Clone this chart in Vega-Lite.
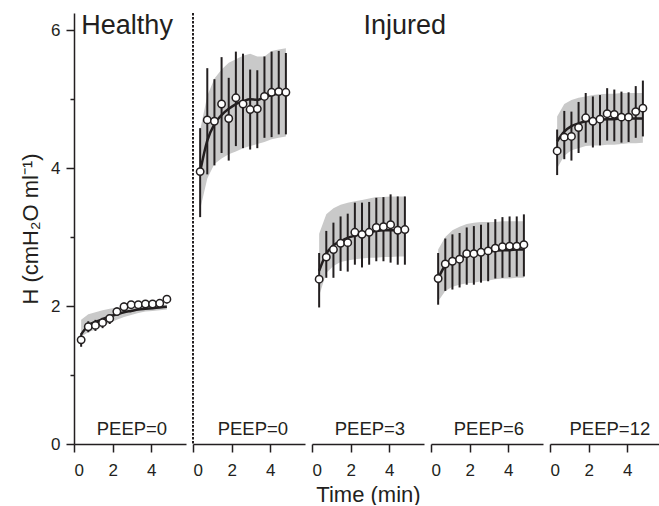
{
  "$schema": "https://vega.github.io/schema/vega-lite/v6.json",
  "padding": {"left": 19, "top": 12, "right": 0, "bottom": 0},
  "bounds": "flush",
  "config": {
    "view": {"stroke": null},
    "font": "Liberation Sans",
    "axis": {"grid": false, "domainColor": "#231f20", "tickColor": "#231f20", "labelColor": "#231f20", "titleColor": "#231f20", "labelFont": "Liberation Sans", "titleFont": "Liberation Sans", "labelFontSize": 17, "titleFontSize": 22, "titleFontWeight": "normal", "domainWidth": 1.5, "tickWidth": 1.5, "format": "d"}
  },
  "datasets": {
    "h": [
      {"p":1,"t":0.37,"m":1.51,"lo":1.41,"hi":1.60,"f":1.59,"bl":1.56,"bh":1.80},
      {"p":1,"t":0.74,"m":1.70,"lo":1.62,"hi":1.78,"f":1.72,"bl":1.62,"bh":1.88},
      {"p":1,"t":1.11,"m":1.72,"lo":1.64,"hi":1.80,"f":1.77,"bl":1.66,"bh":1.91},
      {"p":1,"t":1.48,"m":1.76,"lo":1.68,"hi":1.83,"f":1.81,"bl":1.71,"bh":1.94},
      {"p":1,"t":1.85,"m":1.82,"lo":1.74,"hi":1.88,"f":1.85,"bl":1.76,"bh":1.96},
      {"p":1,"t":2.22,"m":1.92,"lo":1.86,"hi":1.98,"f":1.88,"bl":1.80,"bh":1.98},
      {"p":1,"t":2.59,"m":1.99,"lo":1.93,"hi":2.05,"f":1.91,"bl":1.84,"bh":1.99},
      {"p":1,"t":2.96,"m":2.02,"lo":1.96,"hi":2.07,"f":1.93,"bl":1.87,"bh":2.00},
      {"p":1,"t":3.33,"m":2.02,"lo":1.96,"hi":2.07,"f":1.95,"bl":1.90,"bh":2.01},
      {"p":1,"t":3.70,"m":2.03,"lo":1.97,"hi":2.08,"f":1.96,"bl":1.92,"bh":2.01},
      {"p":1,"t":4.07,"m":2.03,"lo":1.97,"hi":2.08,"f":1.97,"bl":1.93,"bh":2.02},
      {"p":1,"t":4.44,"m":2.04,"lo":1.98,"hi":2.09,"f":1.98,"bl":1.94,"bh":2.02},
      {"p":1,"t":4.81,"m":2.10,"lo":2.04,"hi":2.15,"f":1.99,"bl":1.95,"bh":2.02},
      {"p":2,"t":0.37,"m":3.95,"lo":3.29,"hi":4.58,"f":3.95,"bl":3.40,"bh":4.55},
      {"p":2,"t":0.74,"m":4.70,"lo":3.91,"hi":5.45,"f":4.40,"bl":3.85,"bh":5.05},
      {"p":2,"t":1.11,"m":4.68,"lo":4.04,"hi":5.29,"f":4.64,"bl":4.06,"bh":5.30},
      {"p":2,"t":1.48,"m":4.93,"lo":4.22,"hi":5.61,"f":4.77,"bl":4.14,"bh":5.43},
      {"p":2,"t":1.85,"m":4.72,"lo":4.11,"hi":5.31,"f":4.86,"bl":4.20,"bh":5.53},
      {"p":2,"t":2.22,"m":5.02,"lo":4.32,"hi":5.69,"f":4.93,"bl":4.24,"bh":5.58},
      {"p":2,"t":2.59,"m":4.93,"lo":4.29,"hi":5.66,"f":4.97,"bl":4.29,"bh":5.63},
      {"p":2,"t":2.96,"m":4.85,"lo":4.27,"hi":5.43,"f":5.00,"bl":4.32,"bh":5.66},
      {"p":2,"t":3.33,"m":4.86,"lo":4.29,"hi":5.42,"f":4.99,"bl":4.35,"bh":5.62},
      {"p":2,"t":3.70,"m":5.04,"lo":4.44,"hi":5.62,"f":5.03,"bl":4.38,"bh":5.62},
      {"p":2,"t":4.07,"m":5.10,"lo":4.45,"hi":5.69,"f":5.06,"bl":4.42,"bh":5.70},
      {"p":2,"t":4.44,"m":5.11,"lo":4.49,"hi":5.70,"f":5.08,"bl":4.44,"bh":5.72},
      {"p":2,"t":4.81,"m":5.10,"lo":4.49,"hi":5.67,"f":5.09,"bl":4.46,"bh":5.74},
      {"p":3,"t":0.37,"m":2.39,"lo":1.98,"hi":2.77,"f":2.51,"bl":2.15,"bh":3.05},
      {"p":3,"t":0.74,"m":2.71,"lo":2.41,"hi":3.09,"f":2.76,"bl":2.48,"bh":3.33},
      {"p":3,"t":1.11,"m":2.82,"lo":2.41,"hi":3.21,"f":2.88,"bl":2.58,"bh":3.42},
      {"p":3,"t":1.48,"m":2.91,"lo":2.51,"hi":3.30,"f":2.94,"bl":2.64,"bh":3.47},
      {"p":3,"t":1.85,"m":2.92,"lo":2.50,"hi":3.34,"f":2.99,"bl":2.66,"bh":3.50},
      {"p":3,"t":2.22,"m":3.07,"lo":2.60,"hi":3.50,"f":3.02,"bl":2.68,"bh":3.52},
      {"p":3,"t":2.59,"m":3.04,"lo":2.56,"hi":3.50,"f":3.05,"bl":2.69,"bh":3.54},
      {"p":3,"t":2.96,"m":3.07,"lo":2.60,"hi":3.51,"f":3.07,"bl":2.70,"bh":3.56},
      {"p":3,"t":3.33,"m":3.14,"lo":2.65,"hi":3.57,"f":3.09,"bl":2.70,"bh":3.58},
      {"p":3,"t":3.70,"m":3.15,"lo":2.65,"hi":3.58,"f":3.10,"bl":2.71,"bh":3.58},
      {"p":3,"t":4.07,"m":3.18,"lo":2.63,"hi":3.62,"f":3.10,"bl":2.71,"bh":3.59},
      {"p":3,"t":4.44,"m":3.10,"lo":2.60,"hi":3.59,"f":3.10,"bl":2.72,"bh":3.59},
      {"p":3,"t":4.81,"m":3.11,"lo":2.60,"hi":3.59,"f":3.10,"bl":2.72,"bh":3.59},
      {"p":4,"t":0.37,"m":2.40,"lo":2.02,"hi":2.77,"f":2.40,"bl":2.07,"bh":2.82},
      {"p":4,"t":0.74,"m":2.61,"lo":2.22,"hi":2.98,"f":2.59,"bl":2.22,"bh":3.00},
      {"p":4,"t":1.11,"m":2.65,"lo":2.24,"hi":3.04,"f":2.66,"bl":2.28,"bh":3.10},
      {"p":4,"t":1.48,"m":2.68,"lo":2.27,"hi":3.06,"f":2.70,"bl":2.31,"bh":3.15},
      {"p":4,"t":1.85,"m":2.76,"lo":2.31,"hi":3.14,"f":2.73,"bl":2.33,"bh":3.19},
      {"p":4,"t":2.22,"m":2.76,"lo":2.31,"hi":3.16,"f":2.75,"bl":2.34,"bh":3.21},
      {"p":4,"t":2.59,"m":2.78,"lo":2.34,"hi":3.18,"f":2.77,"bl":2.36,"bh":3.22},
      {"p":4,"t":2.96,"m":2.80,"lo":2.36,"hi":3.21,"f":2.79,"bl":2.37,"bh":3.22},
      {"p":4,"t":3.33,"m":2.84,"lo":2.40,"hi":3.26,"f":2.80,"bl":2.39,"bh":3.22},
      {"p":4,"t":3.70,"m":2.86,"lo":2.41,"hi":3.29,"f":2.81,"bl":2.40,"bh":3.23},
      {"p":4,"t":4.07,"m":2.87,"lo":2.42,"hi":3.30,"f":2.81,"bl":2.40,"bh":3.23},
      {"p":4,"t":4.44,"m":2.87,"lo":2.43,"hi":3.30,"f":2.82,"bl":2.41,"bh":3.23},
      {"p":4,"t":4.81,"m":2.89,"lo":2.43,"hi":3.33,"f":2.82,"bl":2.41,"bh":3.23},
      {"p":5,"t":0.37,"m":4.25,"lo":3.90,"hi":4.56,"f":4.39,"bl":4.00,"bh":4.75},
      {"p":5,"t":0.74,"m":4.45,"lo":4.13,"hi":4.83,"f":4.53,"bl":4.18,"bh":4.93},
      {"p":5,"t":1.11,"m":4.46,"lo":4.11,"hi":4.82,"f":4.61,"bl":4.26,"bh":4.99},
      {"p":5,"t":1.48,"m":4.59,"lo":4.22,"hi":4.96,"f":4.65,"bl":4.29,"bh":5.02},
      {"p":5,"t":1.85,"m":4.73,"lo":4.37,"hi":5.09,"f":4.68,"bl":4.32,"bh":5.04},
      {"p":5,"t":2.22,"m":4.68,"lo":4.30,"hi":5.04,"f":4.69,"bl":4.33,"bh":5.06},
      {"p":5,"t":2.59,"m":4.71,"lo":4.33,"hi":5.06,"f":4.70,"bl":4.33,"bh":5.07},
      {"p":5,"t":2.96,"m":4.79,"lo":4.40,"hi":5.16,"f":4.71,"bl":4.34,"bh":5.08},
      {"p":5,"t":3.33,"m":4.78,"lo":4.39,"hi":5.14,"f":4.71,"bl":4.34,"bh":5.08},
      {"p":5,"t":3.70,"m":4.74,"lo":4.37,"hi":5.11,"f":4.72,"bl":4.35,"bh":5.09},
      {"p":5,"t":4.07,"m":4.74,"lo":4.38,"hi":5.10,"f":4.72,"bl":4.36,"bh":5.09},
      {"p":5,"t":4.44,"m":4.82,"lo":4.44,"hi":5.19,"f":4.72,"bl":4.36,"bh":5.09},
      {"p":5,"t":4.81,"m":4.87,"lo":4.46,"hi":5.27,"f":4.72,"bl":4.37,"bh":5.09}
    ]
  },
  "spacing": 7,
  "hconcat": [
    {
      "width": 112, "height": 431,
      "layer": [
        {
          "data": {"name": "h"}, "transform": [{"filter": "datum.p == 1"}],
          "mark": {"type": "area", "color": "#c9c9c9"},
          "encoding": {
            "x": {"field": "t", "type": "quantitative", "scale": {"domain": [0, 5.8], "nice": false}, "axis": {"values": [0,1,2,3,4,5], "labelExpr": "datum.value % 2 == 0 ? datum.label : ''", "tickSize": {"condition": {"test": "datum.value % 2 == 1", "value": 4}, "value": 8}, "labelPadding": 10, "title": null}},
            "y": {"field": "bl", "type": "quantitative", "scale": {"domain": [0, 6.25], "nice": false}, "axis": {"values": [0,1,2,3,4,5,6], "labelExpr": "datum.value % 2 == 0 ? datum.label : ''", "tickSize": {"condition": {"test": "datum.value % 2 == 1", "value": 4}, "value": 8}, "labelPadding": 6, "title": "H (cmH₂O ml⁻¹)", "titlePadding": 8}},
            "y2": {"field": "bh"}
          }
        },
        {
          "data": {"name": "h"}, "transform": [{"filter": "datum.p == 1"}],
          "mark": {"type": "rule", "color": "#231f20", "strokeWidth": 2},
          "encoding": {"x": {"field": "t", "type": "quantitative"}, "y": {"field": "lo", "type": "quantitative"}, "y2": {"field": "hi"}}
        },
        {
          "data": {"name": "h"}, "transform": [{"filter": "datum.p == 1"}],
          "mark": {"type": "line", "color": "#231f20", "strokeWidth": 2.5, "interpolate": "monotone"},
          "encoding": {"x": {"field": "t", "type": "quantitative"}, "y": {"field": "f", "type": "quantitative"}}
        },
        {
          "data": {"name": "h"}, "transform": [{"filter": "datum.p == 1"}],
          "mark": {"type": "point", "shape": "circle", "filled": true, "fill": "white", "stroke": "#231f20", "strokeWidth": 1.5, "size": 55, "opacity": 1},
          "encoding": {"x": {"field": "t", "type": "quantitative"}, "y": {"field": "m", "type": "quantitative"}}
        },
        {
          "data": {"values": [{"label": "PEEP=0"}]},
          "mark": {"type": "text", "fontSize": 18.5, "color": "#231f20", "font": "Liberation Sans"},
          "encoding": {"x": {"datum": 3.0}, "y": {"datum": 0.22}, "text": {"field": "label"}}
        },
        {
          "data": {"values": [{"label": "Healthy"}]},
          "mark": {"type": "text", "fontSize": 27, "color": "#231f20", "font": "Liberation Sans"},
          "encoding": {"x": {"datum": 2.75}, "y": {"datum": 6.06}, "text": {"field": "label"}}
        }
      ]
    },
    {
      "width": 112, "height": 431,
      "layer": [
        {
          "data": {"name": "h"}, "transform": [{"filter": "datum.p == 2"}],
          "mark": {"type": "area", "color": "#c9c9c9"},
          "encoding": {
            "x": {"field": "t", "type": "quantitative", "scale": {"domain": [0, 5.8], "nice": false}, "axis": {"values": [0,1,2,3,4,5], "labelExpr": "datum.value % 2 == 0 ? datum.label : ''", "tickSize": {"condition": {"test": "datum.value % 2 == 1", "value": 4}, "value": 8}, "labelPadding": 10, "title": null}},
            "y": {"field": "bl", "type": "quantitative", "scale": {"domain": [0, 6.25], "nice": false}, "axis": null},
            "y2": {"field": "bh"}
          }
        },
        {
          "data": {"values": [{"a": 1}]},
          "mark": {"type": "rule", "color": "#231f20", "strokeWidth": 2, "strokeDash": [2.5, 1.5]},
          "encoding": {"x": {"datum": 0}}
        },
        {
          "data": {"name": "h"}, "transform": [{"filter": "datum.p == 2"}],
          "mark": {"type": "rule", "color": "#231f20", "strokeWidth": 2},
          "encoding": {"x": {"field": "t", "type": "quantitative"}, "y": {"field": "lo", "type": "quantitative"}, "y2": {"field": "hi"}}
        },
        {
          "data": {"name": "h"}, "transform": [{"filter": "datum.p == 2"}],
          "mark": {"type": "line", "color": "#231f20", "strokeWidth": 2.5, "interpolate": "monotone"},
          "encoding": {"x": {"field": "t", "type": "quantitative"}, "y": {"field": "f", "type": "quantitative"}}
        },
        {
          "data": {"name": "h"}, "transform": [{"filter": "datum.p == 2"}],
          "mark": {"type": "point", "shape": "circle", "filled": true, "fill": "white", "stroke": "#231f20", "strokeWidth": 1.5, "size": 55, "opacity": 1},
          "encoding": {"x": {"field": "t", "type": "quantitative"}, "y": {"field": "m", "type": "quantitative"}}
        },
        {
          "data": {"values": [{"label": "PEEP=0"}]},
          "mark": {"type": "text", "fontSize": 18.5, "color": "#231f20", "font": "Liberation Sans"},
          "encoding": {"x": {"datum": 3.1}, "y": {"datum": 0.22}, "text": {"field": "label"}}
        }
      ]
    },
    {
      "width": 112, "height": 431,
      "layer": [
        {
          "data": {"name": "h"}, "transform": [{"filter": "datum.p == 3"}],
          "mark": {"type": "area", "color": "#c9c9c9"},
          "encoding": {
            "x": {"field": "t", "type": "quantitative", "scale": {"domain": [0, 5.8], "nice": false}, "axis": {"values": [0,1,2,3,4,5], "labelExpr": "datum.value % 2 == 0 ? datum.label : ''", "tickSize": {"condition": {"test": "datum.value % 2 == 1", "value": 4}, "value": 8}, "labelPadding": 10, "title": "Time (min)", "titlePadding": 6}},
            "y": {"field": "bl", "type": "quantitative", "scale": {"domain": [0, 6.25], "nice": false}, "axis": null},
            "y2": {"field": "bh"}
          }
        },
        {
          "data": {"name": "h"}, "transform": [{"filter": "datum.p == 3"}],
          "mark": {"type": "rule", "color": "#231f20", "strokeWidth": 2},
          "encoding": {"x": {"field": "t", "type": "quantitative"}, "y": {"field": "lo", "type": "quantitative"}, "y2": {"field": "hi"}}
        },
        {
          "data": {"name": "h"}, "transform": [{"filter": "datum.p == 3"}],
          "mark": {"type": "line", "color": "#231f20", "strokeWidth": 2.5, "interpolate": "monotone"},
          "encoding": {"x": {"field": "t", "type": "quantitative"}, "y": {"field": "f", "type": "quantitative"}}
        },
        {
          "data": {"name": "h"}, "transform": [{"filter": "datum.p == 3"}],
          "mark": {"type": "point", "shape": "circle", "filled": true, "fill": "white", "stroke": "#231f20", "strokeWidth": 1.5, "size": 55, "opacity": 1},
          "encoding": {"x": {"field": "t", "type": "quantitative"}, "y": {"field": "m", "type": "quantitative"}}
        },
        {
          "data": {"values": [{"label": "PEEP=3"}]},
          "mark": {"type": "text", "fontSize": 18.5, "color": "#231f20", "font": "Liberation Sans"},
          "encoding": {"x": {"datum": 3.0}, "y": {"datum": 0.22}, "text": {"field": "label"}}
        },
        {
          "data": {"values": [{"label": "Injured"}]},
          "mark": {"type": "text", "fontSize": 27, "color": "#231f20", "font": "Liberation Sans"},
          "encoding": {"x": {"datum": 4.8}, "y": {"datum": 6.06}, "text": {"field": "label"}}
        }
      ]
    },
    {
      "width": 112, "height": 431,
      "layer": [
        {
          "data": {"name": "h"}, "transform": [{"filter": "datum.p == 4"}],
          "mark": {"type": "area", "color": "#c9c9c9"},
          "encoding": {
            "x": {"field": "t", "type": "quantitative", "scale": {"domain": [0, 5.8], "nice": false}, "axis": {"values": [0,1,2,3,4,5], "labelExpr": "datum.value % 2 == 0 ? datum.label : ''", "tickSize": {"condition": {"test": "datum.value % 2 == 1", "value": 4}, "value": 8}, "labelPadding": 10, "title": null}},
            "y": {"field": "bl", "type": "quantitative", "scale": {"domain": [0, 6.25], "nice": false}, "axis": null},
            "y2": {"field": "bh"}
          }
        },
        {
          "data": {"name": "h"}, "transform": [{"filter": "datum.p == 4"}],
          "mark": {"type": "rule", "color": "#231f20", "strokeWidth": 2},
          "encoding": {"x": {"field": "t", "type": "quantitative"}, "y": {"field": "lo", "type": "quantitative"}, "y2": {"field": "hi"}}
        },
        {
          "data": {"name": "h"}, "transform": [{"filter": "datum.p == 4"}],
          "mark": {"type": "line", "color": "#231f20", "strokeWidth": 2.5, "interpolate": "monotone"},
          "encoding": {"x": {"field": "t", "type": "quantitative"}, "y": {"field": "f", "type": "quantitative"}}
        },
        {
          "data": {"name": "h"}, "transform": [{"filter": "datum.p == 4"}],
          "mark": {"type": "point", "shape": "circle", "filled": true, "fill": "white", "stroke": "#231f20", "strokeWidth": 1.5, "size": 55, "opacity": 1},
          "encoding": {"x": {"field": "t", "type": "quantitative"}, "y": {"field": "m", "type": "quantitative"}}
        },
        {
          "data": {"values": [{"label": "PEEP=6"}]},
          "mark": {"type": "text", "fontSize": 18.5, "color": "#231f20", "font": "Liberation Sans"},
          "encoding": {"x": {"datum": 3.0}, "y": {"datum": 0.22}, "text": {"field": "label"}}
        }
      ]
    },
    {
      "width": 112, "height": 431,
      "layer": [
        {
          "data": {"name": "h"}, "transform": [{"filter": "datum.p == 5"}],
          "mark": {"type": "area", "color": "#c9c9c9"},
          "encoding": {
            "x": {"field": "t", "type": "quantitative", "scale": {"domain": [0, 5.8], "nice": false}, "axis": {"values": [0,1,2,3,4,5], "labelExpr": "datum.value % 2 == 0 ? datum.label : ''", "tickSize": {"condition": {"test": "datum.value % 2 == 1", "value": 4}, "value": 8}, "labelPadding": 10, "title": null}},
            "y": {"field": "bl", "type": "quantitative", "scale": {"domain": [0, 6.25], "nice": false}, "axis": null},
            "y2": {"field": "bh"}
          }
        },
        {
          "data": {"name": "h"}, "transform": [{"filter": "datum.p == 5"}],
          "mark": {"type": "rule", "color": "#231f20", "strokeWidth": 2},
          "encoding": {"x": {"field": "t", "type": "quantitative"}, "y": {"field": "lo", "type": "quantitative"}, "y2": {"field": "hi"}}
        },
        {
          "data": {"name": "h"}, "transform": [{"filter": "datum.p == 5"}],
          "mark": {"type": "line", "color": "#231f20", "strokeWidth": 2.5, "interpolate": "monotone"},
          "encoding": {"x": {"field": "t", "type": "quantitative"}, "y": {"field": "f", "type": "quantitative"}}
        },
        {
          "data": {"name": "h"}, "transform": [{"filter": "datum.p == 5"}],
          "mark": {"type": "point", "shape": "circle", "filled": true, "fill": "white", "stroke": "#231f20", "strokeWidth": 1.5, "size": 55, "opacity": 1},
          "encoding": {"x": {"field": "t", "type": "quantitative"}, "y": {"field": "m", "type": "quantitative"}}
        },
        {
          "data": {"values": [{"label": "PEEP=12"}]},
          "mark": {"type": "text", "fontSize": 18.5, "color": "#231f20", "font": "Liberation Sans"},
          "encoding": {"x": {"datum": 3.1}, "y": {"datum": 0.22}, "text": {"field": "label"}}
        }
      ]
    }
  ]
}
